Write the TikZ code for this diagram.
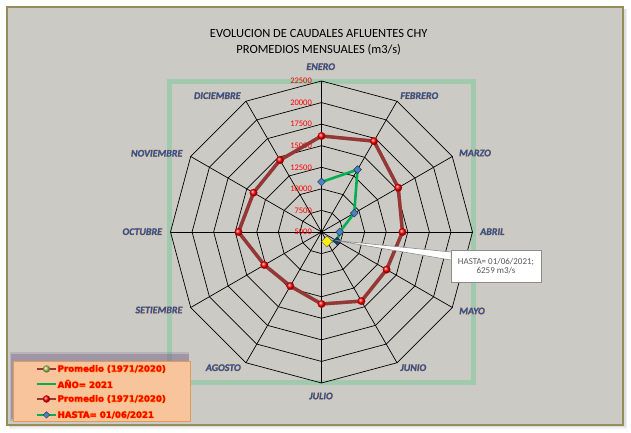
\documentclass[tikz,border=0pt]{standalone}
\usepackage{fontspec}
\setmainfont{Carlito}
\newfontfamily\legfont{DejaVu Sans}[FakeBold=1.2]
\newfontfamily\monthfont{Carlito-BoldItalic.ttf}[FakeBold=1.6]
\usetikzlibrary{shapes.geometric}
\definecolor{bggray}{HTML}{CCCAC5}
\definecolor{frameol}{HTML}{948E58}
\definecolor{rectgreen}{HTML}{A1C9AE}
\definecolor{monthblue}{HTML}{2F5597}
\definecolor{monthglow}{HTML}{F5C28E}
\definecolor{serred}{HTML}{953735}
\definecolor{sergreen}{HTML}{00B050}
\definecolor{diablue}{HTML}{4F81BD}
\definecolor{navymk}{HTML}{1F3864}
\definecolor{legfill}{HTML}{F8C49C}
\definecolor{legdraw}{HTML}{E39A58}
\definecolor{legglow}{HTML}{FFB43C}
\definecolor{legshadow}{HTML}{6E5C86}
\definecolor{calltext}{HTML}{595959}
\definecolor{limegreen}{HTML}{A9C85A}
\newcommand\glowtxt[4]{\leavevmode\rlap{\textcolor{#1}{\kern#4#3}}\rlap{\textcolor{#1}{\kern-#4#3}}\rlap{\textcolor{#1}{\raisebox{#4}{#3}}}\rlap{\textcolor{#1}{\raisebox{-#4}{#3}}}\textcolor{#2}{#3}}
\newcommand\mlab[1]{\glowtxt{monthglow}{monthblue}{#1}{.45pt}}
\newcommand\llab[1]{\glowtxt{legglow}{red}{#1}{.6pt}}
\tikzset{
  web/.style={draw=black, line width=0.7bp},
  redser/.style={draw=serred, line width=3.4bp, line join=round},
  greenser/.style={draw=sergreen, line width=2.6bp, line join=round},
  reddot/.style={circle, inner sep=0pt, minimum size=7.5bp, ball color=red, draw=red!75!black, line width=0.3bp},
  limedot/.style={circle, inner sep=0pt, minimum size=7bp, ball color=limegreen, draw=limegreen!70!black, line width=0.3bp},
  bluedia/.style={diamond, inner sep=0pt, minimum size=8bp, fill=diablue, draw=navymk, line width=0.5bp},
  navymark/.style={diamond, inner sep=0pt, minimum size=8bp, fill=navymk, draw=navymk, line width=0.5bp},
  yellowdia/.style={diamond, inner sep=0pt, minimum size=11bp, fill=yellow, draw=black!60, line width=0.5bp},
  monthlab/.style={inner sep=0pt, font=\monthfont\fontsize{10bp}{12bp}\selectfont},
  axlab/.style={inner sep=0pt, anchor=east, text=red, font=\fontsize{8.5bp}{10bp}\selectfont},
  legtext/.style={inner sep=0pt, anchor=west, font=\legfont\fontsize{8.6bp}{10bp}\selectfont\bfseries},
  callbox/.style={draw=black!45, fill=white, line width=0.6bp, minimum width=90bp, minimum height=32bp, inner sep=0pt, align=center, text=calltext, font=\fontsize{9bp}{9.8bp}\selectfont},
}
\begin{document}
\begin{tikzpicture}[x=1bp,y=1bp]
\useasboundingbox (0,0) rectangle (631,433);
% outer frame with soft shadow
\fill[black, opacity=0.06] (9,4) rectangle (627,424);
\fill[black, opacity=0.08] (9,5.5) rectangle (625.5,424);
\draw[fill=bggray, draw=frameol, line width=2.6bp] (7,8) rectangle (623,426);
% plot area border
\draw[rectgreen, line width=5bp] (169.5,50.5) rectangle (473,351.5);
% title
\node[align=center, font=\fontsize{12.5bp}{16bp}\selectfont] (title) at (318.7,390.3)
  {EVOLUCION DE CAUDALES AFLUENTES CHY\\PROMEDIOS MENSUALES (m3/s)};
\begin{scope}[shift={(321.5,201)}]
  \coordinate (O) at (0,0);
  % web
  \foreach \k in {1,...,7}{
    \pgfmathsetmacro{\rr}{\k*151/7}
    \draw[web] (90:\rr) \foreach \i in {1,...,11}{ -- ({90-30*\i}:\rr) } -- cycle;
  }
  \foreach \i in {0,...,11}{
    \coordinate (s\i) at ({90-30*\i}:151);
    \draw[web] (O) -- (s\i);
  }
  \fill[black] (O) circle (1.6bp);
  % axis labels
  \foreach \v [count=\k from 0] in {5000,7500,10000,12500,15000,17500,20000,22500}{
    \node[axlab] (ax\k) at (-9.5,{\k*151/7}) {\v};
  }
  % Promedio series
  \foreach \r [count=\i from 0] in {96,104.9,88.6,81,75.2,79.8,72,62.4,66,83,78.5,83}{
    \coordinate (p\i) at ({90-30*\i}:\r);
  }
  \draw[serred!60!black, opacity=0.35, line width=3.4bp, line join=round, shift={(0.8,-0.8)}] (p0) -- (p1) -- (p2) -- (p3) -- (p4) -- (p5) -- (p6) -- (p7) -- (p8) -- (p9) -- (p10) -- (p11) -- cycle;
  \draw[redser] (p0) -- (p1) -- (p2) -- (p3) -- (p4) -- (p5) -- (p6) -- (p7) -- (p8) -- (p9) -- (p10) -- (p11) -- cycle;
  \foreach \i in {0,...,11}{ \node[reddot] (rd\i) at (p\i) {}; }
  % 2021 series
  \foreach \r [count=\i from 0] in {50,72,37.8,18.2,18,10.9}{
    \coordinate (g\i) at ({90-30*\i}:\r);
  }
  \draw[greenser] (g0) -- (g1) -- (g2) -- (g3) -- (g4) -- (g5);
  \foreach \i in {0,...,3}{ \node[bluedia] (gd\i) at (g\i) {}; }
  \node[navymark] (gd4) at (g4) {};
  \node[yellowdia] (gd5) at (g5) {};
\end{scope}
% month labels
\node[monthlab] (m1) at (320.7,366.3) {\mlab{ENERO}};
\node[monthlab] (m2) at (419.3,337.3) {\mlab{FEBRERO}};
\node[monthlab] (m3) at (475,280) {\mlab{MARZO}};
\node[monthlab] (m4) at (492.3,201.3) {\mlab{ABRIL}};
\node[monthlab] (m5) at (472,122) {\mlab{MAYO}};
\node[monthlab] (m6) at (413.3,65.3) {\mlab{JUNIO}};
\node[monthlab] (m7) at (321,37) {\mlab{JULIO}};
\node[monthlab] (m8) at (223.3,65.3) {\mlab{AGOSTO}};
\node[monthlab] (m9) at (159,123) {\mlab{SETIEMBRE}};
\node[monthlab] (m10) at (142.3,201.3) {\mlab{OCTUBRE}};
\node[monthlab] (m11) at (156.7,279.7) {\mlab{NOVIEMBRE}};
\node[monthlab] (m12) at (217.3,337.3) {\mlab{DICIEMBRE}};
% callout
\node[callbox] (cb) at (496,167) {HASTA= 01/06/2021;\\6259 m3/s};
\coordinate (tip) at (335.5,192.5);
\coordinate (wa) at ([yshift=14bp]cb.west);
\coordinate (wb) at ([yshift=6bp]cb.west);
\fill[white] (tip) -- (wa) -- (wb) -- cycle;
\draw[black!45, line width=0.6bp] (wa) -- (tip) -- (wb);
% legend
\fill[legshadow, opacity=0.2] (9.5,12) rectangle (189,81);
\fill[legshadow, opacity=0.35] (11,14) rectangle (189,78.5);
\draw[fill=legfill, draw=legdraw, line width=0.8bp] (13,12) rectangle (190,72);
\foreach \yy/\nm in {64/a,49/b,34/c,18/d}{
  \coordinate (la\nm) at (37,\yy);
  \coordinate (lb\nm) at (56,\yy);
  \coordinate (lm\nm) at (46.5,\yy);
}
\draw[serred, line width=2.6bp] (laa) -- (lba);
\node[limedot] (lk1) at (lma) {};
\draw[sergreen, line width=2.2bp] (lab) -- (lbb);
\draw[serred, line width=2.6bp] (lac) -- (lbc);
\node[reddot, minimum size=7bp] (lk3) at (lmc) {};
\draw[sergreen, line width=2.2bp] (lad) -- (lbd);
\node[bluedia, minimum size=6.5bp] (lk4) at (lmd) {};
\node[legtext] (lt1) at (57.5,64) {\llab{Promedio (1971/2020)}};
\node[legtext] (lt2) at (57.5,49) {\llab{AÑO= 2021}};
\node[legtext] (lt3) at (57.5,34) {\llab{Promedio (1971/2020)}};
\node[legtext] (lt4) at (57.5,18) {\llab{HASTA= 01/06/2021}};
\end{tikzpicture}
\end{document}
